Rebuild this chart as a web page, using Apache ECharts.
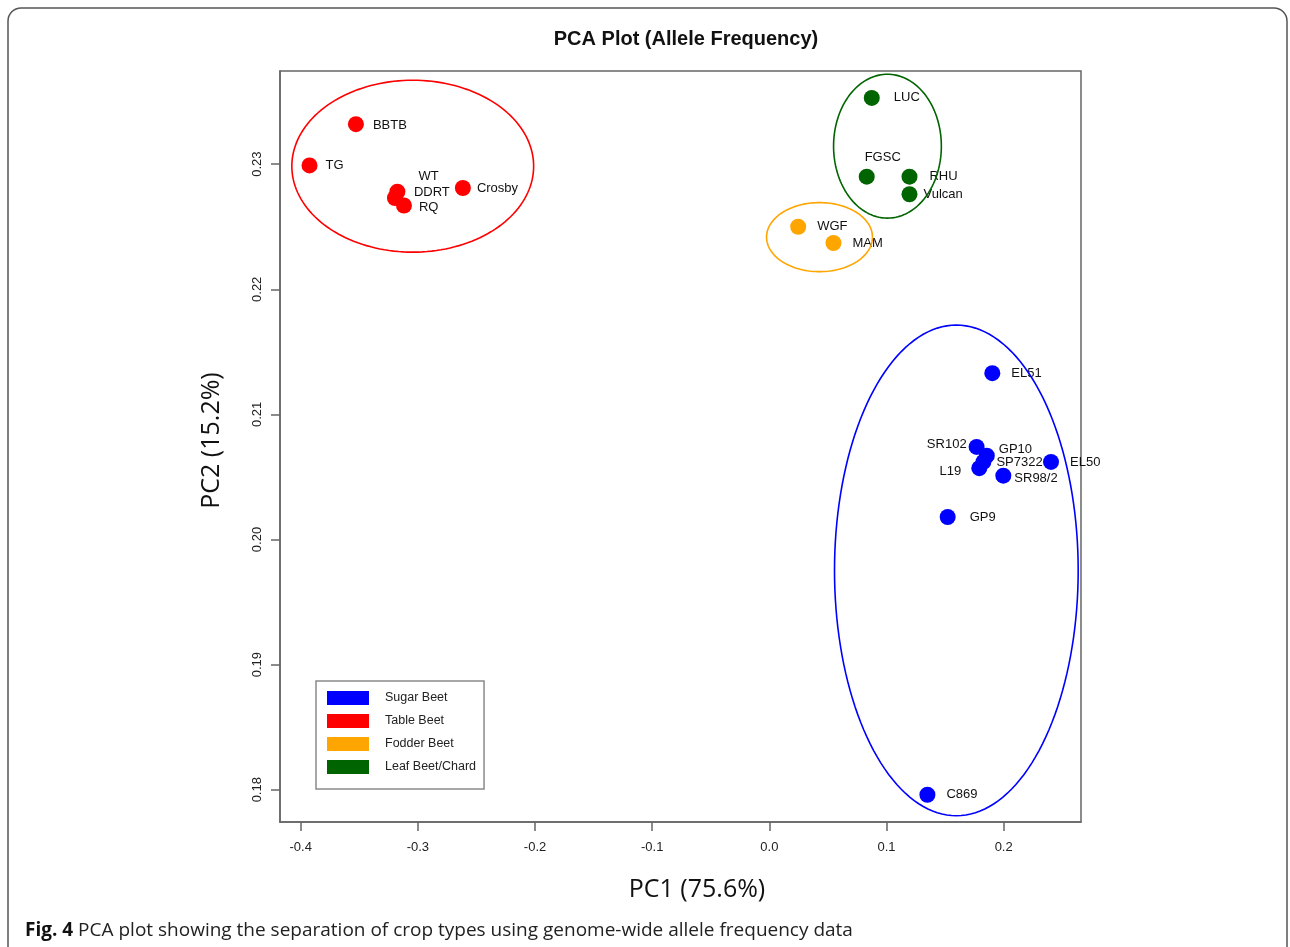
<!DOCTYPE html>
<html>
<head>
<meta charset="utf-8">
<script src="https://cdn.jsdelivr.net/npm/echarts@6/dist/echarts.min.js"></script>
<style>
html,body{margin:0;padding:0;background:#fff;}
#chart{width:1290px;height:947px;}
</style>
</head>
<body>
<div id="chart"></div>
<script>
// ---- data ----
const groupNames = ['Sugar Beet', 'Table Beet', 'Fodder Beet', 'Leaf Beet/Chard'];

const sugarNames = ['EL51', 'SR102', 'GP10', 'SP7322', 'L19', 'SR98/2', 'EL50', 'GP9', 'C869'];
const sugarPC1   = [0.1903, 0.1769, 0.1856, 0.1827, 0.1792, 0.1997, 0.2404, 0.1522, 0.1349];
const sugarPC2   = [0.2133, 0.2074, 0.2067, 0.2062, 0.2057, 0.2051, 0.2062, 0.2018, 0.1796];

const tableNames = ['BBTB', 'TG', 'WT', 'DDRT', 'RQ', 'Crosby'];
const tablePC1   = [-0.3529, -0.3925, -0.3175, -0.3196, -0.3119, -0.2616];
const tablePC2   = [0.2332, 0.2299, 0.2278, 0.2273, 0.2267, 0.2281];

const fodderNames = ['WGF', 'MAM'];
const fodderPC1   = [0.0246, 0.0547];
const fodderPC2   = [0.2250, 0.2237];

const leafNames = ['LUC', 'FGSC', 'RHU', 'Vulcan'];
const leafPC1   = [0.0874, 0.0831, 0.1196, 0.1196];
const leafPC2   = [0.2353, 0.2290, 0.2290, 0.2276];

// group ellipses: centre and semi-axes in data units (Sugar, Table, Fodder, Leaf)
const ellipseCX = [0.1596, -0.3044, 0.0428, 0.1008];
const ellipseCY = [0.19753, 0.22984, 0.22417, 0.23144];
const ellipseRX = [0.1040, 0.1032, 0.0452, 0.0460];
const ellipseRY = [0.01961, 0.00687, 0.00276, 0.00575];

const xTicks = [-0.4, -0.3, -0.2, -0.1, 0.0, 0.1, 0.2];
const yTicks = [0.18, 0.19, 0.20, 0.21, 0.22, 0.23];

// ---- styles ----
const groupColors = ['#0000FF', '#FF0000', '#FFA500', '#006400'];
// label placement per sample: [dx, dy, align]
const labelPlace = {
  'BBTB':[17,1,'left'], 'TG':[16,0,'left'], 'WT':[21,-15,'left'], 'DDRT':[19,-6,'left'],
  'RQ':[15,2,'left'], 'Crosby':[14,0,'left'],
  'LUC':[22,0,'left'], 'FGSC':[16,-19,'center'], 'RHU':[20,0,'left'], 'Vulcan':[14,0,'left'],
  'WGF':[19,0,'left'], 'MAM':[19,0,'left'],
  'EL51':[19,0,'left'], 'SR102':[-10,-3,'right'], 'GP10':[12,-6,'left'], 'SP7322':[13,0,'left'],
  'L19':[-18,3,'right'], 'SR98/2':[11,3,'left'], 'EL50':[19,0,'left'], 'GP9':[22,0,'left'], 'C869':[19,0,'left']
};

function buildPoints(names, xs, ys) {
  return names.map((n, i) => {
    const p = labelPlace[n] || [14, 0, 'left'];
    return {
      name: n,
      value: [xs[i], ys[i]],
      label: { show: true, position: 'inside', align: p[2], verticalAlign: 'middle', offset: [p[0], p[1]] }
    };
  });
}

const groups = [
  buildPoints(sugarNames, sugarPC1, sugarPC2),
  buildPoints(tableNames, tablePC1, tablePC2),
  buildPoints(fodderNames, fodderPC1, fodderPC2),
  buildPoints(leafNames, leafPC1, leafPC2)
];

const ellipseData = ellipseCX.map((c, i) => [c, ellipseCY[i], ellipseRX[i], ellipseRY[i]]);

const chart = echarts.init(document.getElementById('chart'), null, { renderer: 'canvas' });

const labelFont = 'Liberation Sans, Helvetica, Arial, sans-serif';

const scatterSeries = groups.map((pts, gi) => ({
  name: groupNames[gi],
  type: 'scatter',
  symbol: 'circle',
  symbolSize: 16,
  itemStyle: { color: groupColors[gi], opacity: 1 },
  label: { color: '#111', fontSize: 13, fontFamily: labelFont, formatter: '{b}' },
  emphasis: { disabled: true },
  z: 2,
  data: pts
}));

const option = {
  animation: false,
  backgroundColor: '#ffffff',
  title: {
    text: 'PCA Plot (Allele Frequency)',
    left: 681, top: 24, textAlign: 'center',
    textStyle: { fontFamily: labelFont, fontWeight: 'bold', fontSize: 20, color: '#111' }
  },
  graphic: [
    { type: 'rect', shape: { x: 8, y: 8, width: 1279, height: 955, r: 13 },
      style: { fill: null, stroke: '#555', lineWidth: 1.5 }, silent: true, z: -10 },
    { type: 'text', left: 25, top: 921,
      style: {
        text: '{b|Fig. 4} PCA plot showing the separation of crop types using genome-wide allele frequency data',
        rich: { b: { fontWeight: 'bold', fontFamily: 'Open Sans', fontSize: 19, fill: '#111' } },
        fontFamily: 'Open Sans', fontSize: 19, fill: '#222'
      } }
  ],
  legend: {
    orient: 'vertical',
    left: 316, top: 681,
    data: groupNames,
    icon: 'rect',
    itemWidth: 42, itemHeight: 14, itemGap: 9,
    padding: [10, 8, 15, 11],
    borderColor: '#8a8a8a', borderWidth: 1.5,
    selectedMode: false,
    textStyle: { fontFamily: labelFont, fontSize: 12.5, color: '#222', padding: [0, 0, 0, 11] }
  },
  grid: {
    left: 280, top: 71, width: 801, height: 751,
    show: true, borderColor: '#666', borderWidth: 1.5, backgroundColor: 'transparent'
  },
  xAxis: {
    type: 'value',
    min: -0.4177, max: 0.266,
    name: 'PC1 (75.6%)', nameLocation: 'middle', nameGap: 55,
    nameTextStyle: { fontFamily: 'Open Sans', fontSize: 25, color: '#111', padding: [0, 0, 0, 33] },
    splitLine: { show: false },
    axisLine: { show: true, onZero: false, lineStyle: { color: '#666', width: 1.5 } },
    axisTick: { show: true, length: 9, lineStyle: { color: '#666', width: 1.5 }, customValues: xTicks },
    axisLabel: { customValues: xTicks, margin: 19, fontSize: 13, color: '#222', fontFamily: labelFont,
                 formatter: v => v.toFixed(1) }
  },
  yAxis: {
    type: 'value',
    min: 0.17742, max: 0.23745,
    name: 'PC2 (15.2%)', nameLocation: 'middle', nameGap: 56, nameRotate: 90,
    nameTextStyle: { fontFamily: 'Open Sans', fontSize: 25, color: '#111', padding: [0, 0, 0, 12] },
    splitLine: { show: false },
    axisLine: { show: true, onZero: false, lineStyle: { color: '#666', width: 1.5 } },
    axisTick: { show: true, length: 9, lineStyle: { color: '#666', width: 1.5 }, customValues: yTicks },
    axisLabel: { customValues: yTicks, rotate: 90, margin: 16, fontSize: 13, color: '#222', fontFamily: labelFont,
                 formatter: v => v.toFixed(2) }
  },
  series: scatterSeries.concat([{
    name: 'ellipses',
    type: 'custom',
    clip: true,
    z: 3,
    silent: true,
    encode: { x: 0, y: 1 },
    data: ellipseData,
    renderItem: function (params, api) {
      const cx = api.value(0), cy = api.value(1), rx = api.value(2), ry = api.value(3);
      const pts = [];
      for (let i = 0; i <= 160; i++) {
        const t = i / 160 * Math.PI * 2;
        pts.push(api.coord([cx + rx * Math.cos(t), cy + ry * Math.sin(t)]));
      }
      return { type: 'polyline', shape: { points: pts },
               style: { fill: null, stroke: groupColors[params.dataIndex], lineWidth: 1.6 } };
    }
  }])
};

chart.setOption(option);
</script>
</body>
</html>
